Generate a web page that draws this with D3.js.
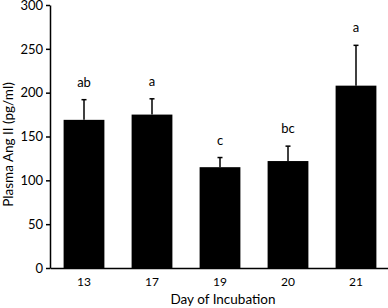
<!DOCTYPE html>
<html>

<head>
	<meta charset="utf-8">
	<script src="https://d3js.org/d3.v7.min.js"></script>
	<style>
		body {
			margin: 0;
			background: white;
		}

		text {
			font-family: Lato, "Open Sans", sans-serif;
			fill: black;
		}

		.axis path,
		.axis line {
			stroke: black;
			stroke-width: 1.5;
		}
	</style>
</head>

<body>
	<svg></svg>
	<script>
		var days = ["13", "17", "19", "20", "21"];
		var means = [169, 175, 115, 122, 208];
		var errors = [23, 18, 11, 17, 46];
		var letters = ["ab", "a", "c", "bc", "a"];
		var yTicks = [0, 50, 100, 150, 200, 250, 300];

		var width = 388;
		var height = 308;
		var margins = {
			"left": 50,
			"right": -2,
			"top": 5,
			"bottom": 40
		};

		var svg = d3.select("svg")
			.attr("width", width)
			.attr("height", height);

		var x = d3.scaleBand()
			.domain(days)
			.range([margins.left, width - margins.right])
			.paddingInner(0.4)
			.paddingOuter(0.2);

		var y = d3.scaleLinear()
			.domain([0, 300])
			.range([height - margins.bottom, margins.top]);

		var data = days.map((d, i) => ({
			day: d,
			mean: means[i],
			err: errors[i],
			letter: letters[i]
		}));

		// bars
		svg.selectAll("rect.bar")
			.data(data)
			.enter()
			.append("rect")
			.attr("class", "bar")
			.attr("x", d => x(d.day))
			.attr("width", x.bandwidth())
			.attr("y", d => y(d.mean))
			.attr("height", d => y(0) - y(d.mean))
			.style("fill", "black");

		// error bars (upper only)
		var eb = svg.selectAll("g.err")
			.data(data)
			.enter()
			.append("g")
			.attr("class", "err");

		eb.append("line")
			.attr("x1", d => x(d.day) + x.bandwidth() / 2)
			.attr("x2", d => x(d.day) + x.bandwidth() / 2)
			.attr("y1", d => y(d.mean))
			.attr("y2", d => y(d.mean + d.err))
			.style("stroke", "black")
			.style("stroke-width", 1.5);

		eb.append("line")
			.attr("x1", d => x(d.day) + x.bandwidth() / 2 - 2.5)
			.attr("x2", d => x(d.day) + x.bandwidth() / 2 + 2.5)
			.attr("y1", d => y(d.mean + d.err))
			.attr("y2", d => y(d.mean + d.err))
			.style("stroke", "black")
			.style("stroke-width", 1.5);

		eb.append("text")
			.attr("x", d => x(d.day) + x.bandwidth() / 2)
			.attr("y", d => y(d.mean + d.err) - 13)
			.attr("text-anchor", "middle")
			.style("font-size", "13px")
			.text(d => d.letter);

		// axes
		var yAxis = svg.append("g")
			.attr("class", "axis")
			.attr("transform", "translate(" + margins.left + ",0)")
			.call(d3.axisLeft(y).tickValues(yTicks).tickSize(4).tickSizeOuter(0));
		yAxis.selectAll("text")
			.style("font-size", "13px")
			.attr("x", -7);

		var xAxis = svg.append("g")
			.attr("class", "axis")
			.attr("transform", "translate(0," + y(0) + ")")
			.call(d3.axisBottom(x).tickSize(0).tickSizeOuter(0));
		xAxis.selectAll("text")
			.style("font-size", "12px")
			.attr("y", 9);

		// titles
		svg.append("text")
			.attr("x", (margins.left + width) / 2 + 4)
			.attr("y", 304)
			.attr("text-anchor", "middle")
			.style("font-size", "13.5px")
			.text("Day of Incubation");

		svg.append("text")
			.attr("transform", "translate(13," + (y(150) + 8) + ") rotate(-90)")
			.attr("text-anchor", "middle")
			.style("font-size", "13.5px")
			.text("Plasma Ang II (pg/ml)");
	</script>
</body>

</html>
